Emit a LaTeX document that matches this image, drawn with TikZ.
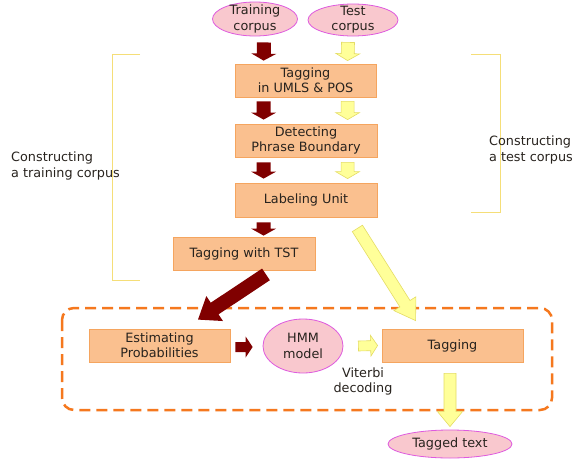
\documentclass[tikz,border=0pt]{standalone}
\usepackage{fontspec}
\setmainfont{DejaVu Sans}
\usetikzlibrary{calc,shapes.geometric}
\definecolor{boxfill}{RGB}{250,192,143}
\definecolor{boxline}{RGB}{245,165,95}
\definecolor{elfill}{RGB}{249,200,206}
\definecolor{elline}{RGB}{222,90,222}
\definecolor{darkarrow}{RGB}{128,0,0}
\definecolor{yelfill}{RGB}{255,255,153}
\definecolor{yelline}{RGB}{228,220,100}
\definecolor{bracketcol}{RGB}{245,222,120}
\definecolor{dashcol}{RGB}{245,120,30}
\definecolor{txtcol}{RGB}{40,35,30}
\newcommand\blockarrow[6]{%
  \coordinate (ba-s) at #2;
  \coordinate (ba-e) at #3;
  \coordinate (ba-n) at ($(ba-e)!#6!(ba-s)$);
  \path[#1] ($(ba-s)!#4!90:(ba-e)$) -- ($(ba-n)!#4!-90:(ba-s)$) --
    ($(ba-n)!#5!-90:(ba-s)$) -- (ba-e) -- ($(ba-n)!#5!90:(ba-s)$) --
    ($(ba-n)!#4!90:(ba-s)$) -- ($(ba-s)!#4!-90:(ba-e)$) -- cycle;}
\begin{document}
\begin{tikzpicture}[x=1pt,y=-1pt,
  txt/.style={font=\fontsize{12.8}{15.2}\selectfont, text=txtcol, align=center, inner sep=0pt},
  stepbox/.style={draw=boxline, line width=0.8pt, fill=boxfill, minimum width=141pt, minimum height=33pt, inner sep=0pt, txt},
  ellip/.style={ellipse, draw=elline, line width=0.8pt, fill=elfill, inner sep=0pt},
  darkarr/.style={fill=darkarrow},
  yelarr/.style={fill=yelfill, draw=yelline, line width=0.6pt, line join=miter},
  brk/.style={draw=bracketcol, line width=1pt}]
\useasboundingbox (0,0) rectangle (582,459);

% brackets
\draw[brk] (140,54) -- (112,54) -- (112,280) -- (140,280);
\draw[brk] (471,54) -- (500,54) -- (500,212) -- (471,212);
\node[txt, align=left, anchor=west] (lefttxt) at (11,166) {Constructing\\a training corpus};
\node[txt, align=left, anchor=west] (righttxt) at (489,150) {Constructing\\a test corpus};

% dashed box
\draw[dashcol, line width=2.5pt, dash pattern=on 11pt off 6pt, rounded corners=12pt] (62,308) rectangle (552,410);

% top ellipses
\node[ellip, minimum width=85pt, minimum height=34pt] (train) at (255,19) {};
\node[txt] (traintxt) at (train) {Training\\corpus};
\node[ellip, minimum width=90pt, minimum height=32pt] (test) at (353,20) {};
\node[txt] (testtxt) at (test) {Test\\corpus};

% boxes
\node[stepbox] (tag1) at (305.5,80.5) {Tagging\\in UMLS \& POS};
\node[stepbox, minimum width=142pt] (detect) at (306,140.5) {Detecting\\Phrase Boundary};
\node[stepbox, minimum width=142pt, minimum height=34pt] (label) at (306,200) {Labeling Unit};
\node[stepbox, minimum width=142pt] (tst) at (244,253.5) {Tagging with TST};
\node[stepbox] (est) at (159.5,345.5) {Estimating\\Probabilities};
\node[ellip, minimum width=80pt, minimum height=54pt] (hmm) at (303,346) {};
\node[txt] (hmmtxt) at (hmm) {HMM\\model};
\node[stepbox] (tagging) at (452.5,345.5) {Tagging};
\node[ellip, minimum width=124pt, minimum height=28pt] (tagged) at (450,444) {};
\node[txt] (taggedtxt) at (tagged) {Tagged text};
\node[txt] (viterbi) at (363,381.5) {Viterbi\\decoding};

% dark arrows
\blockarrow{darkarr}{($(train.south)+(9,6)$)}{($(tag1.north west)+(29,-3)$)}{7pt}{12.5pt}{7pt}
\blockarrow{darkarr}{($(tag1.south west)+(29,4)$)}{($(detect.north west)+(29,-4)$)}{7pt}{12.5pt}{7pt}
\blockarrow{darkarr}{($(detect.south west)+(29,5)$)}{($(label.north west)+(29,-4)$)}{7pt}{12.5pt}{7pt}
\blockarrow{darkarr}{($(label.south west)+(29,5)$)}{($(tst.north west)+(91,-1)$)}{7pt}{12.5pt}{7pt}
\blockarrow{darkarr}{($(tst.south)+(22,4)$)}{($(est.north)+(38.5,-9)$)}{7pt}{15pt}{20pt}
\blockarrow{darkarr}{($(est.east)+(5,1.5)$)}{($(hmm.west)+(-10,1)$)}{5pt}{10.5pt}{7pt}

% yellow arrows
\blockarrow{yelarr}{($(test.south)+(-5,6)$)}{($(tag1.north west)+(113,-3)$)}{6.5pt}{12pt}{7pt}
\blockarrow{yelarr}{($(tag1.south west)+(113,4)$)}{($(detect.north west)+(113,-4)$)}{6.5pt}{12pt}{7pt}
\blockarrow{yelarr}{($(detect.south west)+(113,5)$)}{($(label.north west)+(113,-4)$)}{6.5pt}{12pt}{7pt}
\blockarrow{yelarr}{($(label.south east)+(-20,11)$)}{($(tagging.north west)+(34,-8)$)}{6pt}{13pt}{20pt}
\blockarrow{yelarr}{($(hmm.east)+(15,0)$)}{($(tagging.west)+(-4,0)$)}{5pt}{10.5pt}{7pt}
\blockarrow{yelarr}{($(tagging.south)+(-2.5,11)$)}{($(tagged.north)+(0,-3)$)}{6pt}{12.5pt}{15pt}
\end{tikzpicture}
\end{document}
